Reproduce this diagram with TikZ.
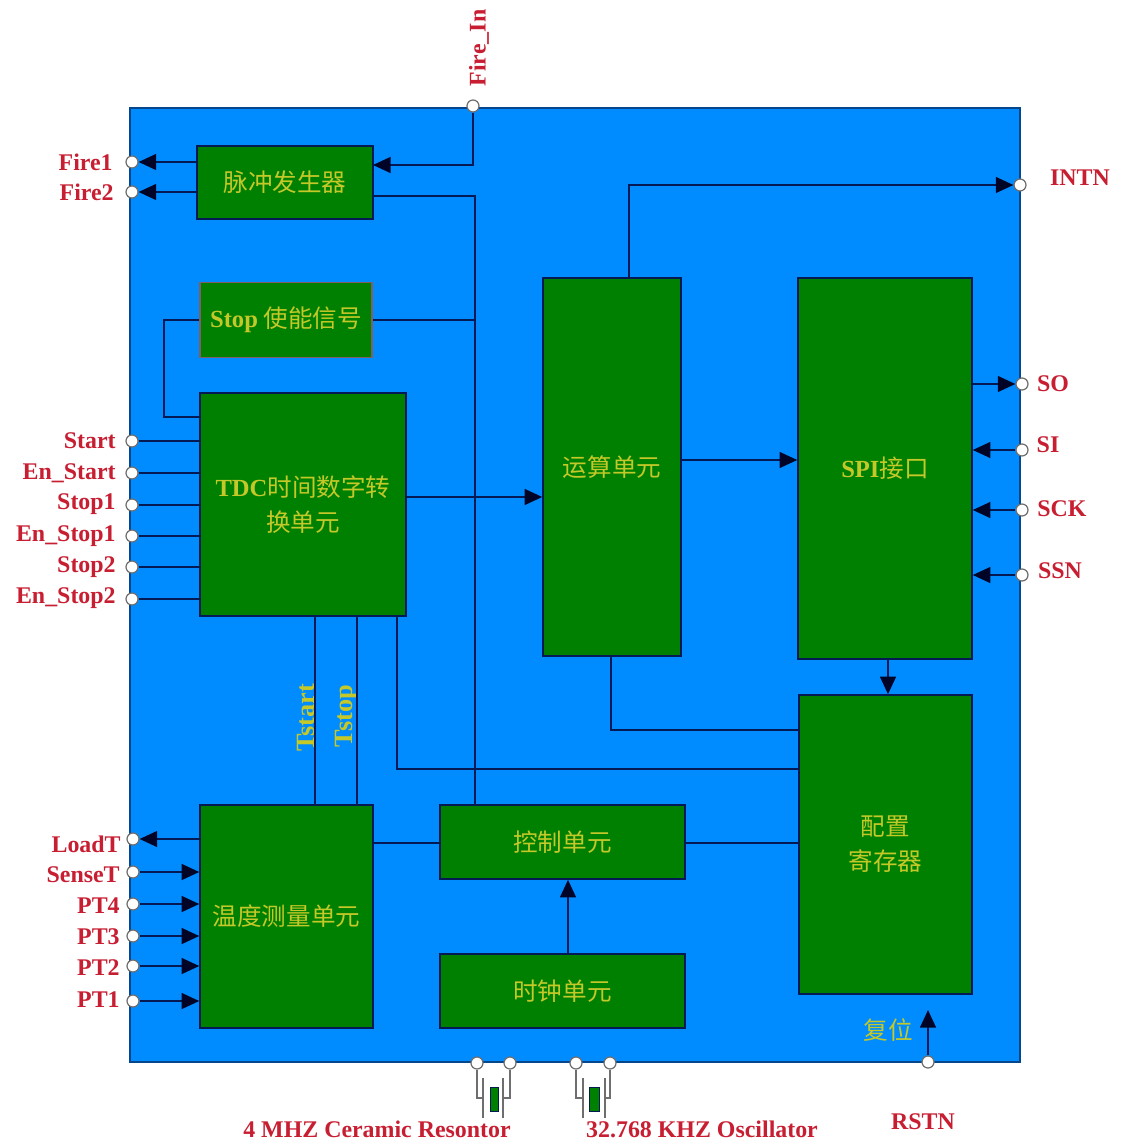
\documentclass[tikz,border=0pt]{standalone}
\usepackage{fontspec}
\setmainfont{Liberation Serif}
\newfontfamily\cjk{Noto Sans CJK SC}
\usetikzlibrary{arrows.meta, positioning, calc}
\definecolor{chipblue}{RGB}{0,140,255}
\definecolor{chipedge}{RGB}{5,70,140}
\definecolor{unitgreen}{RGB}{0,128,0}
\definecolor{wirenavy}{RGB}{5,25,85}
\definecolor{tipdark}{RGB}{0,5,40}
\definecolor{pinred}{RGB}{200,30,50}
\definecolor{unityellow}{RGB}{196,200,40}
\definecolor{pingray}{RGB}{110,110,110}
\tikzset{
  unit/.style={rectangle, draw=wirenavy, fill=unitgreen, align=center, inner sep=0pt,
    font=\fontsize{14}{20}\selectfont\cjk, text=unityellow, line width=0.9pt},
  pin/.style={circle, draw=pingray, fill=white, inner sep=0pt, minimum size=0.24cm, line width=0.7pt},
  pinlabel/.style={font=\fontsize{13.6}{16}\selectfont\bfseries, text=pinred, inner sep=0pt},
  sigtext/.style={font=\fontsize{15}{16}\selectfont\bfseries, text=unityellow, inner sep=0pt},
  arrow/.style={-{Triangle[length=10pt,width=9pt,color=tipdark]}, line width=1.1pt, color=wirenavy},
  line/.style={line width=1.1pt, color=wirenavy},
  plate/.style={line width=1.1pt, color=pingray}
}
\begin{document}
\begin{tikzpicture}[x=0.02cm,y=-0.02cm]
  \useasboundingbox (0,0) rectangle (1121,1141);

  % chip body
  \node[rectangle, draw=chipedge, fill=chipblue, line width=1.1pt, minimum width=17.8cm, minimum height=19.08cm, inner sep=0pt] (chip) at (575,585) {};

  % function units
  \node[unit, minimum width=3.52cm, minimum height=1.46cm] (pulse) at (285,182.5) {脉冲发生器};
  \node[unit, draw=pingray!80!pinred, minimum width=3.44cm, minimum height=1.5cm] (stopen) at (286,320) {{\rmfamily\bfseries Stop} 使能信号};
  \node[unit, minimum width=4.12cm, minimum height=4.46cm] (tdc) at (303,504.5) {{\rmfamily\bfseries TDC}时间数字转\\换单元};
  \node[unit, minimum width=2.76cm, minimum height=7.56cm] (calc) at (612,467) {运算单元};
  \node[unit, minimum width=3.48cm, minimum height=7.62cm] (spi) at (885,468.5) {{\rmfamily\bfseries SPI}接口};
  \node[unit, minimum width=3.46cm, minimum height=5.98cm] (config) at (885.5,844.5) {配置\\寄存器};
  \node[unit, minimum width=3.46cm, minimum height=4.46cm] (temp) at (286.5,916.5) {温度测量单元};
  \node[unit, minimum width=4.9cm, minimum height=1.48cm] (ctrl) at (562.5,842) {控制单元};
  \node[unit, minimum width=4.9cm, minimum height=1.48cm] (clock) at (562.5,991) {时钟单元};

  % pins
  \node[pin] (firein) at (473,106) {};
  \node[pin] (fire1) at (132,162) {};
  \node[pin] (fire2) at (132,192) {};
  \node[pin] (start) at (132,441) {};
  \node[pin] (enstart) at (132,473) {};
  \node[pin] (stop1) at (132,505) {};
  \node[pin] (enstop1) at (132,536) {};
  \node[pin] (stop2) at (132,567) {};
  \node[pin] (enstop2) at (132,599) {};
  \node[pin] (loadt) at (133,839) {};
  \node[pin] (senset) at (133,872) {};
  \node[pin] (pt4) at (133,904) {};
  \node[pin] (pt3) at (133,936) {};
  \node[pin] (pt2) at (133,966) {};
  \node[pin] (pt1) at (133,1001) {};
  \node[pin] (intn) at (1020,185) {};
  \node[pin] (so) at (1022,384) {};
  \node[pin] (si) at (1022,450) {};
  \node[pin] (sck) at (1022,510) {};
  \node[pin] (ssn) at (1022,575) {};
  \node[pin] (rstn) at (928,1062) {};
  \node[pin] (xa) at (477,1063) {};
  \node[pin] (xb) at (510,1063) {};
  \node[pin] (xc) at (576,1063) {};
  \node[pin] (xd) at (610,1063) {};

  % pin labels
  \node[pinlabel, rotate=90] (lfirein) at (479,48) {Fire\_In};
  \node[pinlabel, anchor=east] (lfire1) at (113,162) {Fire1};
  \node[pinlabel, anchor=east] (lfire2) at (114,192) {Fire2};
  \node[pinlabel, anchor=east] (lstart) at (116,441) {Start};
  \node[pinlabel, anchor=east] (lenstart) at (116,473) {En\_Start};
  \node[pinlabel, anchor=east] (lstop1) at (116,504) {Stop1};
  \node[pinlabel, anchor=east] (lenstop1) at (116,536) {En\_Stop1};
  \node[pinlabel, anchor=east] (lstop2) at (116,567) {Stop2};
  \node[pinlabel, anchor=east] (lenstop2) at (116,598) {En\_Stop2};
  \node[pinlabel, anchor=east] (lloadt) at (121,844) {LoadT};
  \node[pinlabel, anchor=east] (lsenset) at (120,875) {SenseT};
  \node[pinlabel, anchor=east] (lpt4) at (120,906) {PT4};
  \node[pinlabel, anchor=east] (lpt3) at (120,937) {PT3};
  \node[pinlabel, anchor=east] (lpt2) at (120,968) {PT2};
  \node[pinlabel, anchor=east] (lpt1) at (120,1000) {PT1};
  \node[pinlabel] (lintn) at (1080,178) {INTN};
  \node[pinlabel] (lso) at (1053,384) {SO};
  \node[pinlabel] (lsi) at (1048,445) {SI};
  \node[pinlabel] (lsck) at (1062,509) {SCK};
  \node[pinlabel] (lssn) at (1060,571) {SSN};
  \node[pinlabel] (lrstn) at (923,1122) {RSTN};
  \node[pinlabel] (lceramic) at (377,1129) {4 MHZ Ceramic Resontor};
  \node[pinlabel] (losc) at (702,1129) {32.768 KHZ Oscillator};

  % labels inside the chip
  \node[sigtext, rotate=90] (ltstart) at (306,718) {Tstart};
  \node[sigtext, rotate=90] (ltstop) at (347,716) {Tstop};
  \node[sigtext, font=\fontsize{14}{16}\selectfont\cjk] (lreset) at (888,1030) {复位};

  % pulse generator
  \coordinate (pulsein) at (373,165);
  \coordinate (bus) at (475,196);
  \draw[arrow] (firein) |- (pulsein);
  \draw[arrow] (pulse.west |- fire1) -- (fire1);
  \draw[arrow] (pulse.west |- fire2) -- (fire2);
  \draw[line] (pulse.east |- bus) -- (bus) -- (bus |- ctrl.north);
  \draw[line] (stopen.east) -- (stopen.east -| bus);

  % stop enable loop
  \coordinate (loop) at (164,417);
  \draw[line] (stopen.west) -| (loop) -- (loop -| tdc.west);

  % tdc inputs
  \draw[line] (start) -- (start -| tdc.west);
  \draw[line] (enstart) -- (enstart -| tdc.west);
  \draw[line] (stop1) -- (stop1 -| tdc.west);
  \draw[line] (enstop1) -- (enstop1 -| tdc.west);
  \draw[line] (stop2) -- (stop2 -| tdc.west);
  \draw[line] (enstop2) -- (enstop2 -| tdc.west);

  % data path
  \coordinate (tdcout) at (406,497);
  \coordinate (calcout) at (681,460);
  \coordinate (calctop) at (629,278);
  \draw[arrow] (tdcout) -- (tdcout -| calc.west);
  \draw[arrow] (calcout) -- (calcout -| spi.west);
  \draw[arrow] (calctop) |- (intn);

  % spi pins
  \draw[arrow] (so -| spi.east) -- (so);
  \draw[arrow] (si) -- (si -| spi.east);
  \draw[arrow] (sck) -- (sck -| spi.east);
  \draw[arrow] (ssn) -- (ssn -| spi.east);

  % config register
  \coordinate (calcbus) at (611,730);
  \coordinate (tdcbus) at (397,769);
  \draw[arrow] (spi.south -| 888,0) -- (config.north -| 888,0);
  \draw[line] (calcbus |- calc.south) -- (calcbus) -- (calcbus -| config.west);
  \draw[line] (tdcbus |- tdc.south) -- (tdcbus) -- (tdcbus -| config.west);
  \draw[arrow] (rstn) -- (928,1010);

  % temperature unit
  \coordinate (tstart) at (315,805);
  \coordinate (tstop) at (357,805);
  \draw[line] (tstart |- tdc.south) -- (tstart);
  \draw[line] (tstop |- tdc.south) -- (tstop);
  \draw[arrow] (loadt -| temp.west) -- (loadt);
  \draw[arrow] (senset) -- (senset -| temp.west);
  \draw[arrow] (pt4) -- (pt4 -| temp.west);
  \draw[arrow] (pt3) -- (pt3 -| temp.west);
  \draw[arrow] (pt2) -- (pt2 -| temp.west);
  \draw[arrow] (pt1) -- (pt1 -| temp.west);

  % control unit
  \coordinate (ctrlbus) at (0,843);
  \draw[line] (temp.east |- ctrlbus) -- (ctrl.west |- ctrlbus);
  \draw[line] (ctrl.east |- ctrlbus) -- (config.west |- ctrlbus);
  \draw[arrow] (clock.north -| 568,0) -- (ctrl.south -| 568,0);

  % crystals
  \node[rectangle, draw=wirenavy, fill=unitgreen, minimum width=0.16cm, minimum height=0.48cm, inner sep=0pt] (ceramic) at (494,1099) {};
  \node[rectangle, draw=wirenavy, fill=unitgreen, minimum width=0.2cm, minimum height=0.48cm, inner sep=0pt] (quartz) at (594,1099) {};
  \draw[plate] (xa) |- (483,1098);
  \draw[plate] (xb) |- (503,1098);
  \draw[plate] (483,1078) -- (483,1118);
  \draw[plate] (503,1078) -- (503,1118);
  \draw[plate] (xc) |- (583,1098);
  \draw[plate] (xd) |- (605,1098);
  \draw[plate] (583,1078) -- (583,1118);
  \draw[plate] (605,1078) -- (605,1118);

\end{tikzpicture}
\end{document}
